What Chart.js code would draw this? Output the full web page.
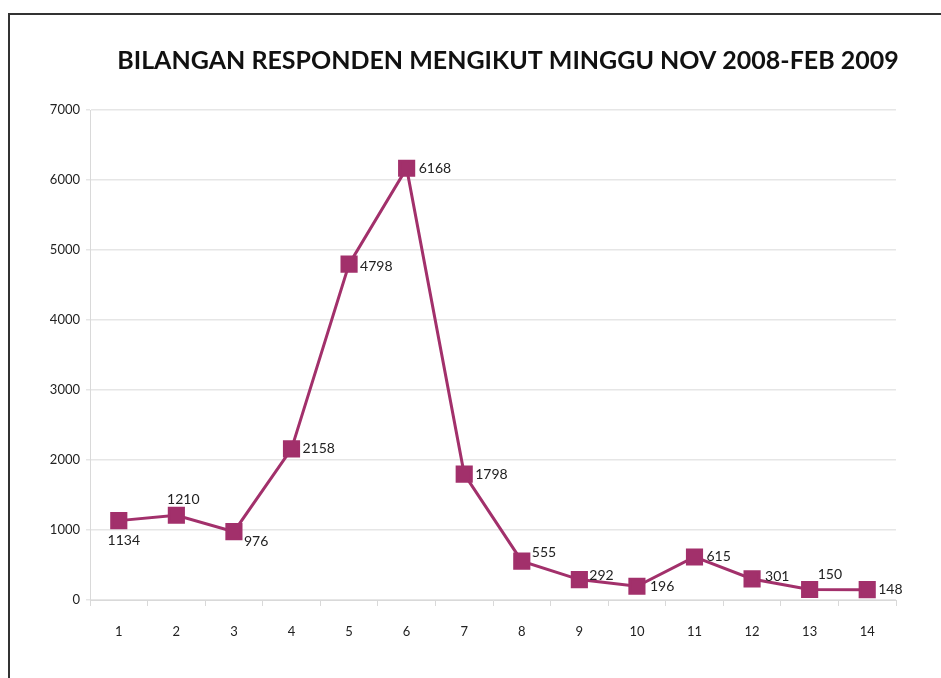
<!DOCTYPE html>
<html>
<head>
<meta charset="utf-8">
<script src="https://cdn.jsdelivr.net/npm/chart.js@4"></script>
<style>
  body { margin: 0; background: #fff; }
  #frame { position: absolute; left: 8px; top: 13px; width: 960px; height: 700px;
           border-top: 2px solid #333; border-left: 2px solid #333; }
  #myChart { position: absolute; left: 0; top: 0; }
</style>
</head>
<body>
<div id="frame"></div>
<canvas id="myChart" width="941" height="678"></canvas>
<script>
const weeks = ['1', '2', '3', '4', '5', '6', '7', '8', '9', '10', '11', '12', '13', '14'];
const respondents = [1134, 1210, 976, 2158, 4798, 6168, 1798, 555, 292, 196, 615, 301, 150, 148];
const yTicks = [0, 1000, 2000, 3000, 4000, 5000, 6000, 7000];

// where each value label sits relative to its point
const labelOffsets = [
    [5, 20, 'center'], [7, -16, 'center'], [10, 10, 'left'], [11, 0, 'left'],
    [11, 2, 'left'], [12, 0, 'left'], [11, 0, 'left'], [10, -9, 'left'],
    [10, -4, 'left'], [13, 0, 'left'], [12, 0, 'left'], [13, -2, 'left'],
    [8, -15, 'left'], [11, 0, 'left']
];

const lineColor = '#a2306b';
const fontFamily = 'Lato, "Noto Sans", sans-serif';

const valueLabels = {
    id: 'valueLabels',
    afterDatasetsDraw(chart) {
        const c = chart.ctx;
        const meta = chart.getDatasetMeta(0);
        c.save();
        c.font = '14px ' + fontFamily;
        c.fillStyle = '#222';
        c.textBaseline = 'middle';
        meta.data.forEach((pt, i) => {
            const [dx, dy, align] = labelOffsets[i];
            c.textAlign = align;
            c.fillText(String(respondents[i]), pt.x + dx, pt.y + dy);
        });
        c.restore();
    }
};

// shift the title a bit right, like the original
const titleShift = {
    id: 'titleShift',
    afterLayout(chart) {
        if (chart.titleBlock) {
            chart.titleBlock.left += 60;
            chart.titleBlock.right += 60;
        }
    }
};

const ctx = document.getElementById('myChart');

new Chart(ctx, {
    type: 'line',
    data: {
        labels: weeks,
        datasets: [{
            data: respondents,
            borderColor: lineColor,
            backgroundColor: lineColor,
            borderWidth: 3,
            pointStyle: 'rect',
            pointRadius: 10,
            pointHoverRadius: 10,
            tension: 0
        }]
    },
    options: {
        responsive: false,
        animation: false,
        layout: { padding: { left: 0, right: 45, top: 0, bottom: 0 } },
        scales: {
            x: {
                offset: true,
                afterFit: s => { s.height = 78; },
                grid: {
                    offset: true,
                    drawOnChartArea: false,
                    drawTicks: true,
                    tickLength: 6,
                    color: '#d9d9d9'
                },
                border: { display: true, color: '#d9d9d9' },
                ticks: {
                    padding: 18,
                    color: '#222',
                    font: { family: fontFamily, size: 13 }
                }
            },
            y: {
                min: 0,
                max: 7000,
                afterFit: s => { s.width = 90; },
                afterBuildTicks: s => { s.ticks = yTicks.map(v => ({ value: v })); },
                grid: {
                    color: '#e6e6e6',
                    lineWidth: 1.5,
                    tickLength: 4
                },
                border: { display: true, color: '#d9d9d9' },
                ticks: {
                    padding: 6,
                    color: '#222',
                    font: { family: fontFamily, size: 13 },
                    callback: v => String(v)
                }
            }
        },
        plugins: {
            legend: { display: false },
            tooltip: { enabled: false },
            title: {
                display: true,
                text: 'BILANGAN RESPONDEN MENGIKUT MINGGU NOV 2008-FEB 2009',
                color: '#111',
                font: { family: fontFamily, size: 25, weight: 'bold' },
                padding: { top: 46, bottom: 34 }
            }
        }
    },
    plugins: [valueLabels, titleShift]
});
</script>
</body>
</html>
